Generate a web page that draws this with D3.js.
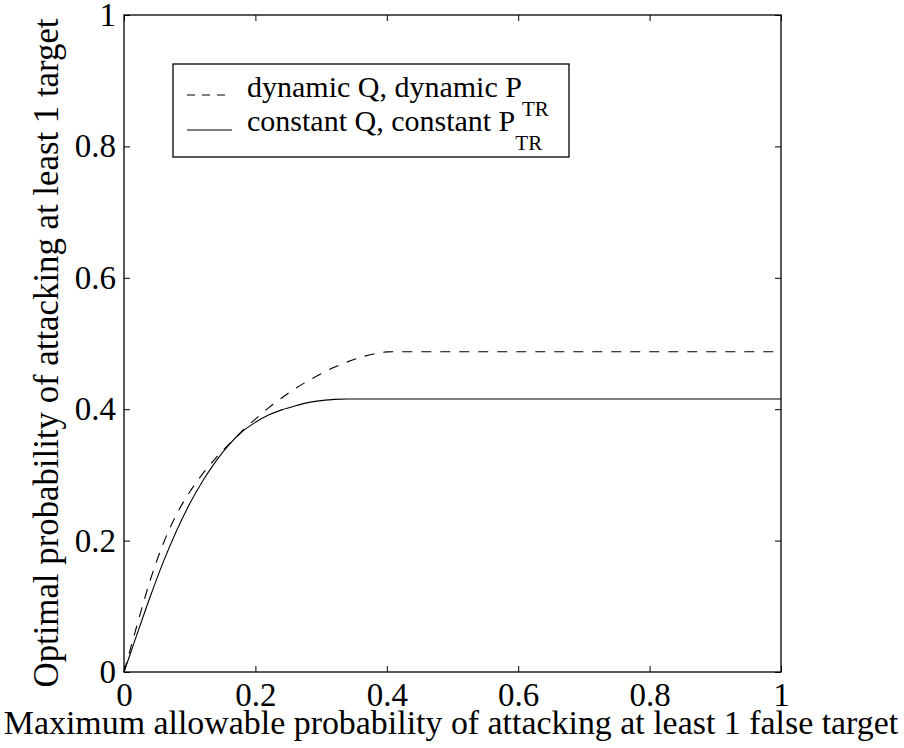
<!DOCTYPE html>
<html>
<head>
<meta charset="utf-8">
<script src="https://cdn.jsdelivr.net/npm/d3@7"></script>
<style>
    body { margin: 0; background: #fff; }
    svg { display: block; font-family: 'Liberation Serif', 'Times New Roman', serif; }
    .axis text { font-family: 'Liberation Serif', 'Times New Roman', serif; font-size: 33px; fill: #000; }
    .axis line { stroke: #000; stroke-width: 1; }
</style>
</head>
<body>
<svg id="chart"></svg>
<script>
// Values.
const xValues = [0, 0.01, 0.02, 0.04, 0.06, 0.08, 0.10, 0.12, 0.14, 0.16, 0.18, 0.20, 0.22, 0.24, 0.26, 0.28, 0.30, 0.32, 0.34, 0.36, 0.38, 0.40, 0.42, 1.0];
const dynamicValues = [0, 0.036, 0.072, 0.140, 0.196, 0.240, 0.274, 0.302, 0.326, 0.347, 0.367, 0.385, 0.402, 0.417, 0.431, 0.443, 0.454, 0.464, 0.472, 0.479, 0.484, 0.4872, 0.4875, 0.4875];
const constantValues = [0, 0.029, 0.058, 0.115, 0.168, 0.215, 0.256, 0.291, 0.321, 0.346, 0.366, 0.380, 0.391, 0.399, 0.405, 0.410, 0.413, 0.415, 0.4155, 0.4155, 0.4155, 0.4155, 0.4155, 0.4155];
const seriesNames = ['dynamic Q, dynamic P', 'constant Q, constant P'];
const seriesSub = 'TR';
const tickValues = [0, 0.2, 0.4, 0.6, 0.8, 1];
const tickLabels = ['0', '0.2', '0.4', '0.6', '0.8', '1'];
const xTitle = 'Maximum allowable probability of attacking at least 1 false target';
const yTitle = 'Optimal probability of attacking at least 1 target';

const width = 904, height = 748;
const marginLeft = 124, marginRight = 123, marginTop = 15, marginBottom = 76;
const tickLen = 6;

const svg = d3.select('#chart').attr('width', width).attr('height', height);

// Scales.
const x = d3.scaleLinear().domain([0, 1]).range([marginLeft, width - marginRight]);
const y = d3.scaleLinear().domain([0, 1]).range([height - marginBottom, marginTop]);

const fmt = d => tickLabels[tickValues.indexOf(d)];

// Bottom axis, ticks pointing inward.
svg.append('g')
    .attr('class', 'axis')
    .attr('transform', `translate(0, ${y(0)})`)
    .call(d3.axisBottom(x).tickValues(tickValues).tickFormat(fmt).tickSizeInner(-tickLen).tickSizeOuter(0).tickPadding(11))
    .call(g => g.select('.domain').remove());

// Left axis.
svg.append('g')
    .attr('class', 'axis')
    .attr('transform', `translate(${x(0)}, 0)`)
    .call(d3.axisLeft(y).tickValues(tickValues).tickFormat(fmt).tickSizeInner(-tickLen).tickSizeOuter(0).tickPadding(8))
    .call(g => g.select('.domain').remove());

// Top and right ticks (box on).
svg.append('g')
    .attr('class', 'axis')
    .attr('transform', `translate(0, ${y(1)})`)
    .call(d3.axisTop(x).tickValues(tickValues).tickFormat('').tickSizeInner(-tickLen).tickSizeOuter(0))
    .call(g => g.select('.domain').remove());

svg.append('g')
    .attr('class', 'axis')
    .attr('transform', `translate(${x(1)}, 0)`)
    .call(d3.axisRight(y).tickValues(tickValues).tickFormat('').tickSizeInner(-tickLen).tickSizeOuter(0))
    .call(g => g.select('.domain').remove());

// Axes box.
svg.append('rect')
    .attr('x', x(0))
    .attr('y', y(1))
    .attr('width', x(1) - x(0))
    .attr('height', y(0) - y(1))
    .attr('fill', 'none')
    .attr('stroke', '#000')
    .attr('stroke-width', 1.3);

// Curves.
const line = d3.line()
    .x((d, i) => x(xValues[i]))
    .y(d => y(d))
    .curve(d3.curveMonotoneX);

svg.append('path')
    .datum(dynamicValues)
    .attr('d', line)
    .attr('fill', 'none')
    .attr('stroke', '#000')
    .attr('stroke-width', 1.1)
    .attr('stroke-dasharray', '10,9');

svg.append('path')
    .datum(constantValues)
    .attr('d', line)
    .attr('fill', 'none')
    .attr('stroke', '#000')
    .attr('stroke-width', 1.1);

// Axis titles.
svg.append('text')
    .attr('x', 451)
    .attr('y', 734)
    .attr('text-anchor', 'middle')
    .attr('font-size', 33.9)
    .text(xTitle);

svg.append('text')
    .attr('transform', `translate(58, 353) rotate(-90)`)
    .attr('text-anchor', 'middle')
    .attr('font-size', 34.8)
    .text(yTitle);

// Legend.
const legend = svg.append('g');
legend.append('rect')
    .attr('x', 173)
    .attr('y', 64)
    .attr('width', 396)
    .attr('height', 93)
    .attr('fill', '#fff')
    .attr('stroke', '#000')
    .attr('stroke-width', 1.3);

const rows = [
    { name: seriesNames[0], dash: '8,7', ly: 95, ty: 97 },
    { name: seriesNames[1], dash: null, ly: 130, ty: 131 },
];

rows.forEach(r => {
    legend.append('line')
        .attr('x1', 187).attr('x2', 232)
        .attr('y1', r.ly).attr('y2', r.ly)
        .attr('stroke', '#000')
        .attr('stroke-width', 1.1)
        .attr('stroke-dasharray', r.dash);
    const t = legend.append('text')
        .attr('x', 247)
        .attr('y', r.ty)
        .attr('font-size', 30)
        .text(r.name);
    t.append('tspan')
        .attr('dy', 19)
        .attr('font-size', 21)
        .text(seriesSub);
});
</script>
</body>
</html>
